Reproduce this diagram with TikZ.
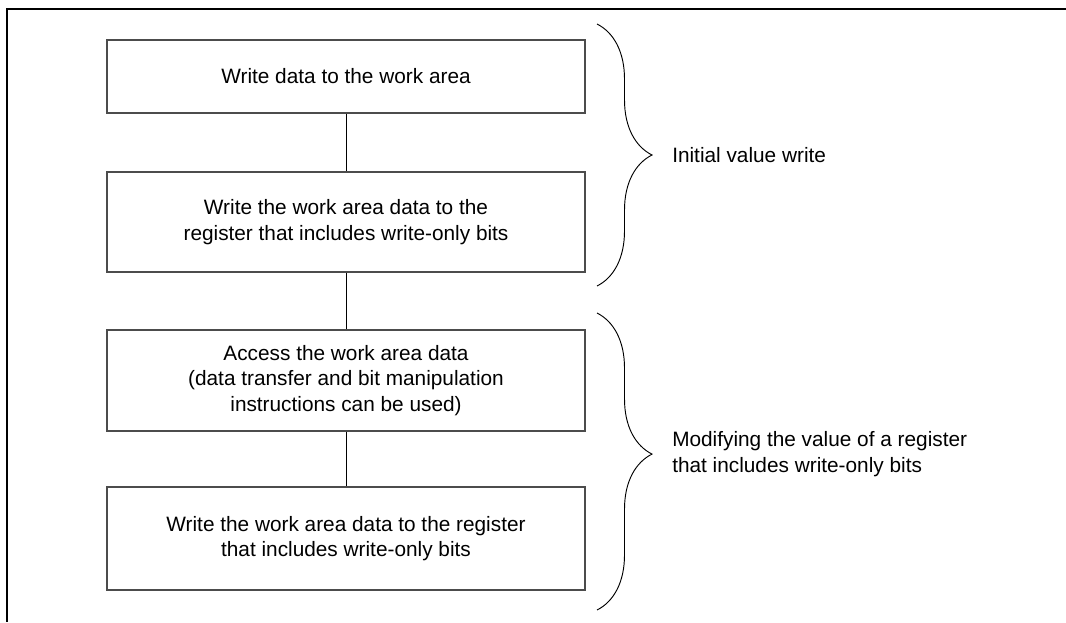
\documentclass[tikz,border=0pt]{standalone}
\usepackage{fontspec}
\setmainfont{Liberation Sans}
\usetikzlibrary{decorations.pathreplacing,positioning}

\begin{document}
\begin{tikzpicture}[x=0.75pt,y=-0.75pt,
    stepbox/.style={draw=black!70, line width=0.8pt, minimum width=358.5pt,
      align=center, inner sep=0pt, font=\fontsize{15.6}{19}\selectfont},
    grpbrace/.style={decorate, decoration={brace, amplitude=41.25pt}, line width=0.7pt},
    grplabel/.style={anchor=west, align=left, inner sep=0pt,
      font=\fontsize{15.6}{19}\selectfont}]
    \useasboundingbox (0,0) rectangle (1066,622);

    % frame
    \draw[line width=1.5pt] (1066,9) -- (7,9) -- (7,622);

    % steps
    \node[stepbox, minimum height=54.75pt] (wrwork) at (346,76.5) {Write data to the work area};
    \node[stepbox, minimum height=75pt] (wrreg) at (346,222) {Write the work area data to the\\register that includes write-only bits};
    \node[stepbox, minimum height=75.75pt] (access) at (346,380.5) {Access the work area data\\(data transfer and bit manipulation\\instructions can be used)};
    \node[stepbox, minimum height=77.25pt] (wrback) at (346,538.5) {Write the work area data to the register\\that includes write-only bits};

    % connectors
    \draw[line width=0.75pt] (wrwork) -- (wrreg);
    \draw[line width=0.75pt] (wrreg) -- (access);
    \draw[line width=0.75pt] (access) -- (wrback);

    % braces
    \coordinate (initT) at (597,24);
    \coordinate (initB) at (597,286);
    \coordinate (modT) at (597,313);
    \coordinate (modB) at (597,610);
    \draw[grpbrace] (initT) -- (initB);
    \draw[grpbrace, decoration={aspect=0.475}] (modT) -- (modB);

    % group labels
    \node[grplabel] (init) at (672,155) {Initial value write};
    \node[grplabel] (modify) at (672,454) {Modifying the value of a register\\that includes write-only bits};
\end{tikzpicture}
\end{document}
